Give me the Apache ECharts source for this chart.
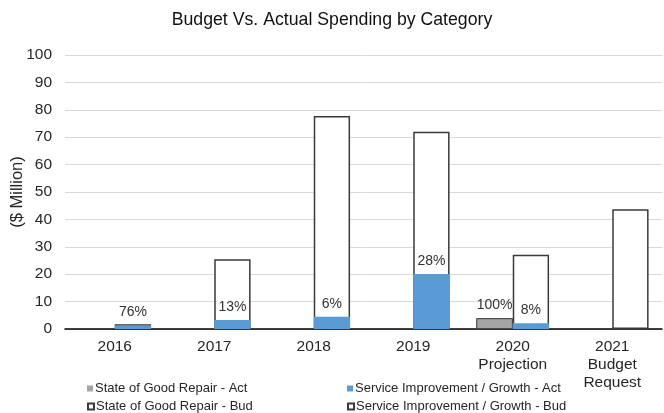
<!DOCTYPE html>
<html>
<head>
<meta charset="utf-8">
<script src="https://cdn.jsdelivr.net/npm/echarts@6/dist/echarts.min.js"></script>
<style>
  html, body { margin: 0; padding: 0; background: #fff; }
  #chart { width: 664px; height: 413px; }
</style>
</head>
<body>
<div id="chart"></div>
<script>
// 类别和数值
const categories = ['2016', '2017', '2018', '2019', '2020\nProjection', '2021\nBudget\nRequest'];
const sgrAct = ['-', '-', '-', '-', 3.9, '-'];
const sgrBud = ['-', '-', '-', '-', 3.9, '-'];
const sigAct = [1.3, 3.3, 4.5, 20.1, 2.1, '-'];
const sigBud = [1.7, 25.5, 77.7, 72, 27.1, 43.7];
const sgrPct = ['', '', '', '', '100%', ''];
const sigPct = ['76%', '13%', '6%', '28%', '8%', ''];
const yTicks = [0, 100, 10];

const FONT = 'Liberation Sans, Arial, sans-serif';
const TXT = '#262626';
const budStyle = { color: '#ffffff', borderColor: '#3a3a3a', borderWidth: 1.5 };

const chart = echarts.init(document.getElementById('chart'), null, { renderer: 'canvas' });

// 百分比标签
function pctLabel(arr) {
  return {
    show: true,
    position: 'top',
    distance: 6,
    fontFamily: FONT,
    fontSize: 14,
    color: '#333',
    formatter: p => arr[p.dataIndex]
  };
}

// 单项图例
function legendItem(name, left, top, plain) {
  return {
    left: left,
    top: top,
    padding: 0,
    itemWidth: 6,
    itemHeight: 6,
    icon: 'rect',
    textStyle: { fontFamily: FONT, fontSize: 13, color: TXT, padding: [0, 0, 0, -3] },
    data: [plain ? { name: name, itemStyle: { borderWidth: 0 } } : name]
  };
}

const option = {
  backgroundColor: '#fff',
  animation: false,
  title: {
    text: 'Budget Vs. Actual Spending by Category',
    left: 'center',
    top: 6,
    textStyle: { fontFamily: FONT, fontSize: 17.7, fontWeight: 'normal', color: '#111' }
  },
  grid: { left: 65, right: 2, top: 55, bottom: 84, outerBoundsMode: 'none' },
  legend: [
    legendItem('State of Good Repair - Act', 87, 382, true),
    legendItem('State of Good Repair - Bud', 87, 400, false),
    legendItem('Service Improvement / Growth - Act', 347, 382, true),
    legendItem('Service Improvement / Growth - Bud', 347, 400, false)
  ],
  xAxis: [
    {
      type: 'category',
      data: categories,
      axisTick: { show: false },
      axisLine: { lineStyle: { color: '#000', width: 1.5 } },
      axisLabel: { fontFamily: FONT, fontSize: 15.5, color: TXT, margin: 9, lineHeight: 18, interval: 0 }
    },
    {
      type: 'category',
      data: categories,
      show: false
    }
  ],
  yAxis: {
    type: 'value',
    min: yTicks[0],
    max: yTicks[1],
    interval: yTicks[2],
    name: '($ Million)',
    nameLocation: 'middle',
    nameRotate: 90,
    nameGap: 39,
    nameMoveOverlap: false,
    nameTextStyle: { fontFamily: FONT, fontSize: 16.5, color: TXT },
    axisLine: { show: false },
    axisTick: { show: false },
    axisLabel: { fontFamily: FONT, fontSize: 15.5, color: TXT, margin: 13 },
    splitLine: { lineStyle: { color: '#d9d9d9', width: 1 } }
  },
  series: [
    {
      name: 'State of Good Repair - Bud',
      type: 'bar',
      xAxisIndex: 0,
      data: sgrBud,
      barGap: '0%',
      barCategoryGap: '27%',
      itemStyle: budStyle,
      z: 2
    },
    {
      name: 'Service Improvement / Growth - Bud',
      type: 'bar',
      xAxisIndex: 0,
      data: sigBud,
      barGap: '0%',
      barCategoryGap: '27%',
      itemStyle: budStyle,
      z: 2
    },
    {
      name: 'State of Good Repair - Act',
      type: 'bar',
      xAxisIndex: 1,
      data: sgrAct,
      barGap: '0%',
      barCategoryGap: '27%',
      itemStyle: { color: '#a5a5a5', borderColor: '#3a3a3a', borderWidth: 0.8 },
      label: pctLabel(sgrPct),
      z: 3
    },
    {
      name: 'Service Improvement / Growth - Act',
      type: 'bar',
      xAxisIndex: 1,
      data: sigAct,
      barGap: '0%',
      barCategoryGap: '27%',
      itemStyle: { color: '#5b9bd5' },
      label: pctLabel(sigPct),
      z: 3
    }
  ]
};

chart.setOption(option);
</script>
</body>
</html>
